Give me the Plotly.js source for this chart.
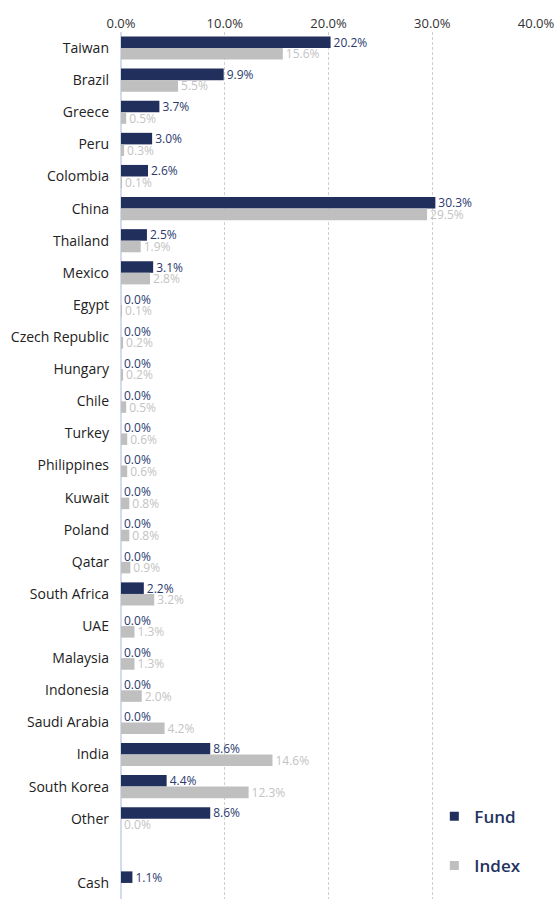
<!DOCTYPE html>
<html>
<head>
<meta charset="utf-8">
<script src="https://cdn.plot.ly/plotly-3.0.1.min.js"></script>
<style>html,body{margin:0;padding:0;background:#fff;}#chart{width:555px;height:899px;}</style>
</head>
<body>
<div id="chart"></div>
<script>
var categories = ["Taiwan","Brazil","Greece","Peru","Colombia","China","Thailand","Mexico","Egypt","Czech Republic","Hungary","Chile","Turkey","Philippines","Kuwait","Poland","Qatar","South Africa","UAE","Malaysia","Indonesia","Saudi Arabia","India","South Korea","Other"," ","Cash"];
var fundValues = [20.2,9.9,3.7,3.0,2.6,30.3,2.5,3.1,0.0,0.0,0.0,0.0,0.0,0.0,0.0,0.0,0.0,2.2,0.0,0.0,0.0,0.0,8.6,4.4,8.6,null,1.1];
var indexValues = [15.6,5.5,0.5,0.3,0.1,29.5,1.9,2.8,0.1,0.2,0.2,0.5,0.6,0.6,0.8,0.8,0.9,3.2,1.3,1.3,2.0,4.2,14.6,12.3,0.0,null,null];
var tickValues = [0,10,20,30,40];
var tickLabels = ["0.0%","10.0%","20.0%","30.0%","40.0%"];
var seriesNames = ["Fund","Index"];

var FONT = "Open Sans, Lato, sans-serif";
var NAVY = "#212f5c";
var GREY = "#bfbfbf";

function fmt(arr){return arr.map(function(v){return v===null?"":v.toFixed(1)+"%";});}

var traces = [
  {type:"bar", orientation:"h", name:seriesNames[0], y:categories, x:fundValues,
   marker:{color:NAVY}, text:fmt(fundValues), textposition:"outside", constraintext:"none",
   textfont:{family:FONT,size:12,color:"#2a3a6e"}, cliponaxis:false, hoverinfo:"none", showlegend:false},
  {type:"bar", orientation:"h", name:seriesNames[1], y:categories, x:indexValues,
   marker:{color:GREY}, text:fmt(indexValues), textposition:"outside", constraintext:"none",
   textfont:{family:FONT,size:12,color:"#c3c3c3"}, cliponaxis:false, hoverinfo:"none", showlegend:false},
  {type:"scatter", mode:"markers", name:seriesNames[0], x:[null], y:[null],
   marker:{symbol:"square", size:9, color:NAVY}, legend:"legend", hoverinfo:"none"},
  {type:"scatter", mode:"markers", name:seriesNames[1], x:[null], y:[null],
   marker:{symbol:"square", size:9, color:GREY}, legend:"legend2", hoverinfo:"none"}
];

var legendCommon = {font:{family:FONT,size:17,color:"#243360",weight:600}, bgcolor:"rgba(0,0,0,0)", xanchor:"left", yanchor:"middle", itemwidth:30};

var layout = {
  width:555, height:899,
  margin:{l:121, r:19, t:32, b:0},
  paper_bgcolor:"#fff", plot_bgcolor:"#fff",
  barmode:"group", bargap:0.28, bargroupgap:0,
  font:{family:FONT, size:12, color:"#222"},
  xaxis:{side:"top", range:[0,40], tickvals:tickValues, ticktext:tickLabels,
    showgrid:true, gridcolor:"#cfcfcf", griddash:"3px,2px", gridwidth:1,
    zeroline:true, zerolinecolor:"#d5dbee", zerolinewidth:1.5,
    showline:false, ticks:"", tickfont:{family:FONT,size:13,color:"#333"}, fixedrange:true},
  yaxis:{type:"category", autorange:"reversed", showgrid:false, zeroline:false, showline:false,
    ticks:"", ticklabelstandoff:11, tickfont:{family:FONT,size:14,color:"#222"}, fixedrange:true},
  showlegend:true,
  legend:Object.assign({x:0.755, y:0.095}, legendCommon),
  legend2:Object.assign({x:0.755, y:0.038}, legendCommon)
};

Plotly.newPlot("chart", traces, layout, {displayModeBar:false, staticPlot:true});
</script>
</body>
</html>
